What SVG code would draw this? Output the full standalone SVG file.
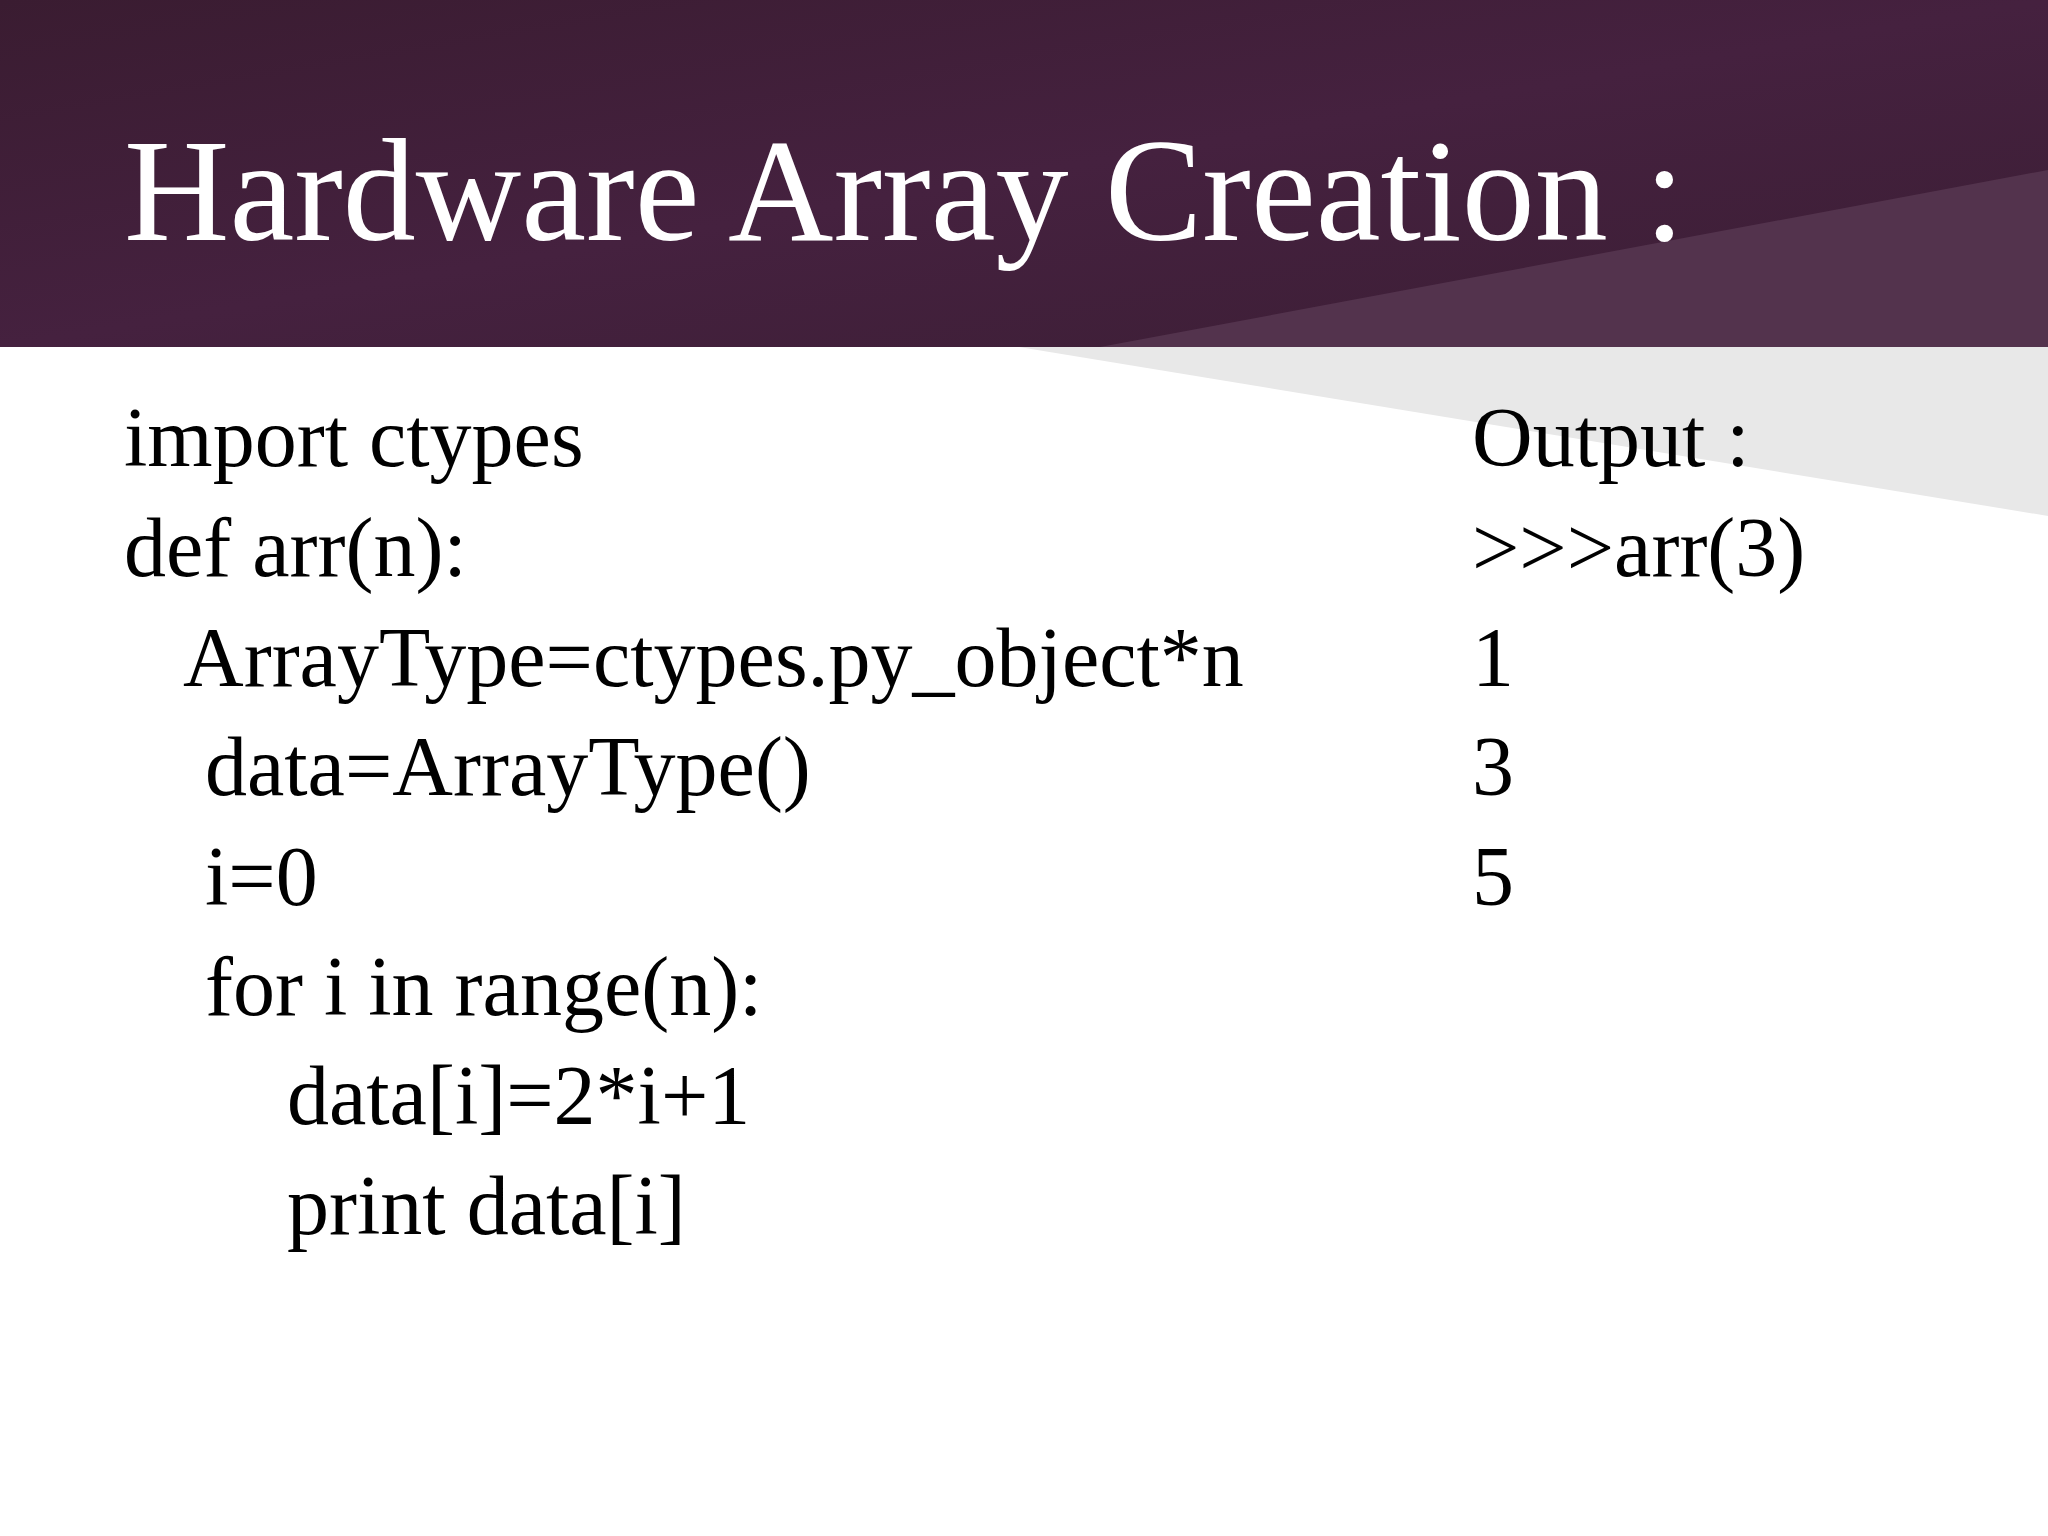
<svg xmlns="http://www.w3.org/2000/svg" width="2048" height="1536" viewBox="0 0 2048 1536">
<defs>
<linearGradient id="hg" x1="0" y1="0" x2="1" y2="1">
<stop offset="0" stop-color="#3a1c31"/>
<stop offset="0.5" stop-color="#45213f"/>
<stop offset="1" stop-color="#3b1e34"/>
</linearGradient>
<style>
.t{font-family:"Liberation Serif","DejaVu Serif",serif;fill:#000;font-size:84px}
.h{font-family:"Liberation Serif","DejaVu Serif",serif;fill:#fff;font-size:146px}
</style>
</defs>
<rect width="2048" height="1536" fill="#fff"/>
<rect width="2048" height="347" fill="url(#hg)"/>
<polygon points="1100,347 2048,170 2048,347" fill="#53334d"/>
<polygon points="1019,347 2048,347 2048,516" fill="#e8e8e8"/>
<g id="title"><text class="h" x="124" y="240">Hardware Array Creation :</text></g>
<g id="code">
<text class="t" x="124" y="466">import ctypes</text>
<text class="t" x="124" y="576">def arr(n):</text>
<text class="t" x="183" y="686">ArrayType=ctypes.py_object*n</text>
<text class="t" x="205" y="795">data=ArrayType()</text>
<text class="t" x="205" y="905">i=0</text>
<text class="t" x="205" y="1015">for i in range(n):</text>
<text class="t" x="287" y="1124">data[i]=2*i+1</text>
<text class="t" x="287" y="1234">print data[i]</text>
</g>
<g id="output">
<text class="t" x="1472" y="466">Output :</text>
<text class="t" x="1472" y="576">&gt;&gt;&gt;arr(3)</text>
<text class="t" x="1472" y="686">1</text>
<text class="t" x="1472" y="795">3</text>
<text class="t" x="1472" y="905">5</text>
</g>
<g id="connectors"/>
</svg>
